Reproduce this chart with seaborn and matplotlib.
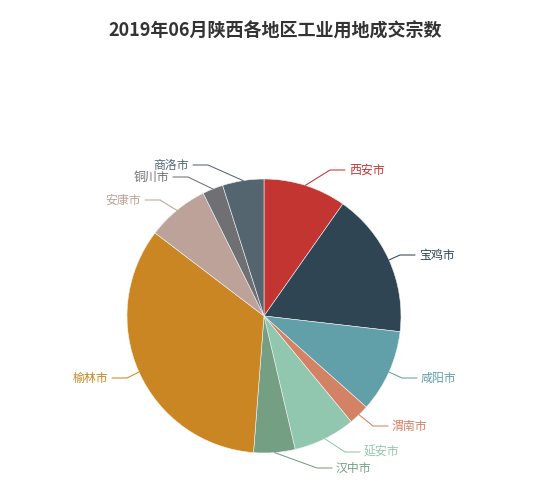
"""2019年06月陕西各地区工业用地成交宗数 - pie chart in the ECharts look."""

import matplotlib.pyplot as plt
import numpy as np
import seaborn as sns

# data
CITIES = ["西安市", "宝鸡市", "咸阳市", "渭南市", "延安市",
          "汉中市", "榆林市", "安康市", "铜川市", "商洛市"]
DEALS = [4, 7, 4, 1, 3, 2, 14, 3, 1, 2]
TITLE = "2019年06月陕西各地区工业用地成交宗数"

# style / layout
PALETTE = ["#c23531", "#2f4554", "#61a0a8", "#d48265", "#91c7ae",
           "#749f83", "#ca8622", "#bda29a", "#6e7074", "#546570"]
W, H = 550, 490
CENTER = (264, 316)          # pixels, y measured from top
RADIUS = 137
# elbow point of each label line (pixels, y from top), after overlap shifting
ELBOWS = [(330, 170), (400, 255), (402, 378), (373, 426), (345, 452),
          (317, 468), (127, 378), (160, 200), (188, 177), (208, 165)]
LINE2 = 15

sns.set_theme(style="white")
plt.rcParams["font.family"] = ["Noto Sans CJK SC", "DejaVu Sans"]


def py(y):
    """Convert a top-down pixel y to the axis coordinate."""
    return H - y


fig = plt.figure(figsize=(W / 100, H / 100), dpi=100)
ax = fig.add_axes([0, 0, 1, 1])

wedges, _ = ax.pie(
    DEALS,
    colors=sns.color_palette(PALETTE),
    startangle=90,
    counterclock=False,
    center=(CENTER[0], py(CENTER[1])),
    radius=RADIUS,
    wedgeprops=dict(linewidth=0.4, edgecolor="#f2f2f2"),
    frame=True,
)
ax.set_xlim(0, W)
ax.set_ylim(0, H)
ax.set_aspect("equal")
ax.axis("off")

for wedge, name, color, (ex, ey) in zip(wedges, CITIES, PALETTE, ELBOWS):
    mid = np.deg2rad((wedge.theta1 + wedge.theta2) / 2)
    sx = CENTER[0] + RADIUS * np.cos(mid)
    sy = py(CENTER[1]) + RADIUS * np.sin(mid)
    right = np.cos(mid) >= 0
    hx = ex + LINE2 if right else ex - LINE2
    ax.plot([sx, ex, hx], [sy, py(ey), py(ey)], color=color, lw=0.75,
            solid_joinstyle="miter")
    ax.text(hx + (4 if right else -4), py(ey), name, color=color,
            fontsize=8.6, ha="left" if right else "right", va="center")

fig.text(0.5, py(31) / H, TITLE, ha="center", va="center",
         fontsize=13, fontweight="bold", color="#333333")

fig.savefig("out.png", dpi=100, facecolor="white")
plt.close(fig)
